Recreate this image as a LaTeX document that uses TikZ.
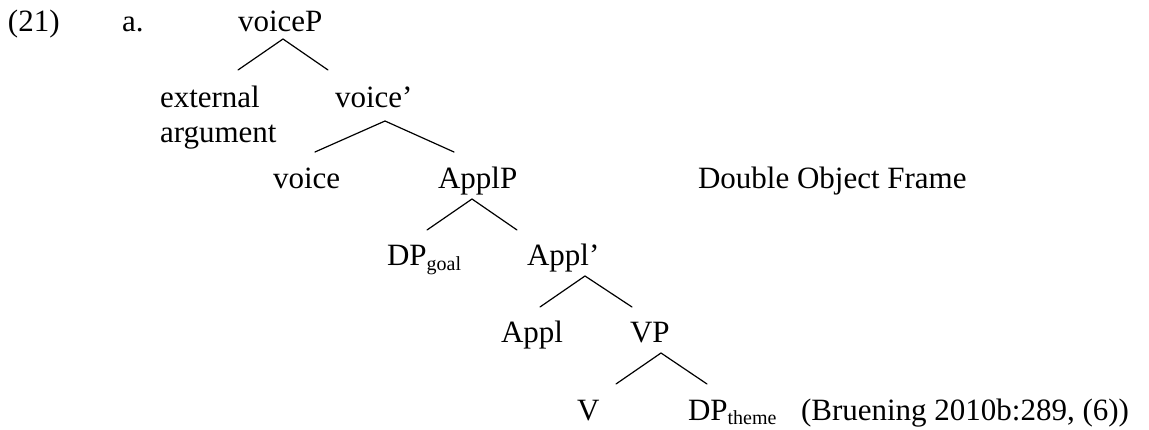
\documentclass[tikz,border=0pt]{standalone}
\usepackage{fontspec}
\setmainfont{Liberation Serif}
\tikzset{
  lbl/.style={anchor=base west, inner sep=0pt, outer sep=0pt, font=\fontsize{31}{35.6}\selectfont},
  branch/.style={line width=1.2pt, line cap=round}
}
\newcommand{\mysub}[1]{\raisebox{-5pt}{\fontsize{20}{20}\selectfont #1}}
\begin{document}
\begin{tikzpicture}[x=1pt,y=-1pt]
\useasboundingbox (0,0) rectangle (1149,430);
% labels
\node[lbl] (ex) at (8,32) {(21)};
\node[lbl] (a) at (122,32) {a.};
\node[lbl] (voiceP) at (238,32) {voiceP};
\node[lbl] (ext) at (160,108) {external};
\node[lbl] (arg) at (160,143) {argument};
\node[lbl] (voicebar) at (335,108) {voice’};
\node[lbl] (voice) at (273,189) {voice};
\node[lbl] (ApplP) at (438,189) {ApplP};
\node[lbl] (frame) at (698,189) {Double Object Frame};
\node[lbl] (DPgoal) at (387,266) {DP\mysub{goal}};
\node[lbl] (Applbar) at (527,266) {Appl’};
\node[lbl] (Appl) at (501,343) {Appl};
\node[lbl] (VP) at (630,343) {VP};
\node[lbl] (V) at (577,420) {V};
\node[lbl] (DPtheme) at (688,420) {DP\mysub{theme}};
\node[lbl] (cite) at (801,420) {(Bruening 2010b:289, (6))};
% branch points
\coordinate (a1) at (283,39);  \coordinate (l1) at (238,70);  \coordinate (r1) at (328,70);
\coordinate (a2) at (385,121); \coordinate (l2) at (315,152); \coordinate (r2) at (454,152);
\coordinate (a3) at (472,199); \coordinate (l3) at (427,230); \coordinate (r3) at (517,230);
\coordinate (a4) at (585,276); \coordinate (l4) at (540,307); \coordinate (r4) at (632,307);
\coordinate (a5) at (661,353); \coordinate (l5) at (616,384); \coordinate (r5) at (707,384);
\draw[branch] (l1) -- (a1) -- (r1);
\draw[branch] (l2) -- (a2) -- (r2);
\draw[branch] (l3) -- (a3) -- (r3);
\draw[branch] (l4) -- (a4) -- (r4);
\draw[branch] (l5) -- (a5) -- (r5);
\end{tikzpicture}
\end{document}
